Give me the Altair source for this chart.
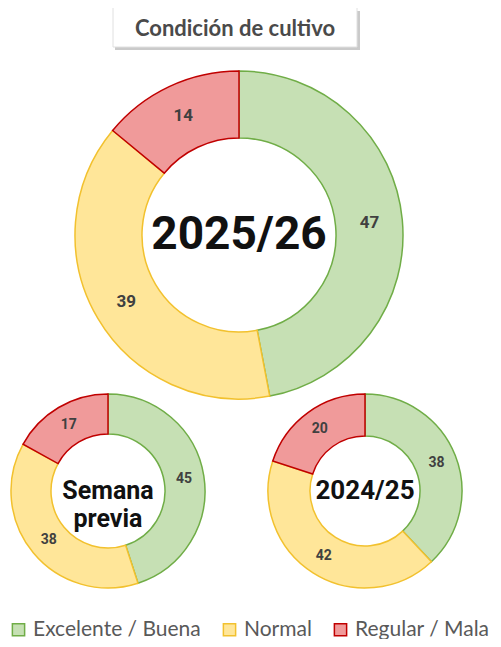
import altair as alt
import pandas as pd

# ---- datos ----
categorias = ["Excelente / Buena", "Normal", "Regular / Mala"]
orden = [1, 2, 3]
valores_2025_26 = [47, 39, 14]
valores_semana_previa = [45, 38, 17]
valores_2024_25 = [38, 42, 20]

titulo = ["Condición de cultivo"]
centro_2025_26 = ["2025/26"]
centro_semana_previa = ["Semana\nprevia"]
centro_2024_25 = ["2024/25"]

colores_relleno = ["#C6E0B4", "#FFE699", "#F09A9A"]
colores_borde = ["#70AD47", "#F2C12E", "#C00000"]

FUENTE_NUM = 'Roboto, sans-serif'
FUENTE_TXT = 'Lato, "Open Sans", sans-serif'

leyenda = alt.Legend(
    title=None, orient="none", legendX=0, legendY=611, direction="horizontal",
    symbolType="square", symbolSize=150, symbolStrokeWidth=1.5,
    labelFontSize=21, labelFont="Lato", labelColor="#595959", labelLimit=0,
    labelOffset=4, columnPadding=18,
)


def donut(valores, centro, cx, cy, r_in, r_out, r_lab, lab_size, centro_size, line_h):
    df = pd.DataFrame({"categoria": categorias, "orden": orden, "valor": valores})
    base = alt.Chart(df).encode(
        theta=alt.Theta("valor:Q", stack=True),
        order=alt.Order("orden:Q"),
        x=alt.value(cx),
        y=alt.value(cy),
    )
    arco = base.mark_arc(radius=r_out, radius2=r_in, strokeWidth=1.5).encode(
        color=alt.Color("categoria:N", scale=alt.Scale(domain=categorias, range=colores_relleno), legend=leyenda),
        stroke=alt.Stroke("categoria:N", scale=alt.Scale(domain=categorias, range=colores_borde), legend=leyenda),
    )
    etiquetas = base.mark_text(
        radius=r_lab, fontSize=lab_size, fontWeight="bold", color="#404040", font=FUENTE_NUM
    ).encode(text="valor:Q")
    texto_centro = alt.Chart(pd.DataFrame({"t": centro})).mark_text(
        fontSize=centro_size, fontWeight="bold", color="#111111", font=FUENTE_NUM,
        lineBreak="\n", lineHeight=line_h, baseline="middle",
    ).encode(text="t:N", x=alt.value(cx), y=alt.value(cy))
    return [arco, etiquetas, texto_centro]


capas = []
capas += donut(valores_2025_26, centro_2025_26, 231, 227, 97, 164, 131, 17, 46, 50)
capas += donut(valores_semana_previa, centro_semana_previa, 100, 483, 57, 97, 77, 14, 25, 28)
capas += donut(valores_2024_25, centro_2024_25, 357, 483, 55, 97, 77, 14, 26, 30)

df_titulo = pd.DataFrame({"t": titulo})
sombra = alt.Chart(df_titulo).mark_rect(color="#BDBDBD", opacity=0.8).encode(
    x=alt.value(107), x2=alt.value(352), y=alt.value(3), y2=alt.value(42)
)
caja = alt.Chart(df_titulo).mark_rect(fill="white", stroke="#E0E0E0", strokeWidth=1).encode(
    x=alt.value(105), x2=alt.value(349), y=alt.value(-1), y2=alt.value(39)
)
texto_titulo = alt.Chart(df_titulo).mark_text(
    fontSize=22, fontWeight="bold", color="#4A4A4A", font=FUENTE_TXT, baseline="middle"
).encode(text="t:N", x=alt.value(227), y=alt.value(21))

chart = alt.layer(sombra, caja, texto_titulo, *capas).properties(
    width=485, height=631, autosize=alt.AutoSizeParams(type="none"), padding=0
).configure_view(stroke=None)

chart.save("out.html", embed_options={"renderer": "svg", "actions": False})
